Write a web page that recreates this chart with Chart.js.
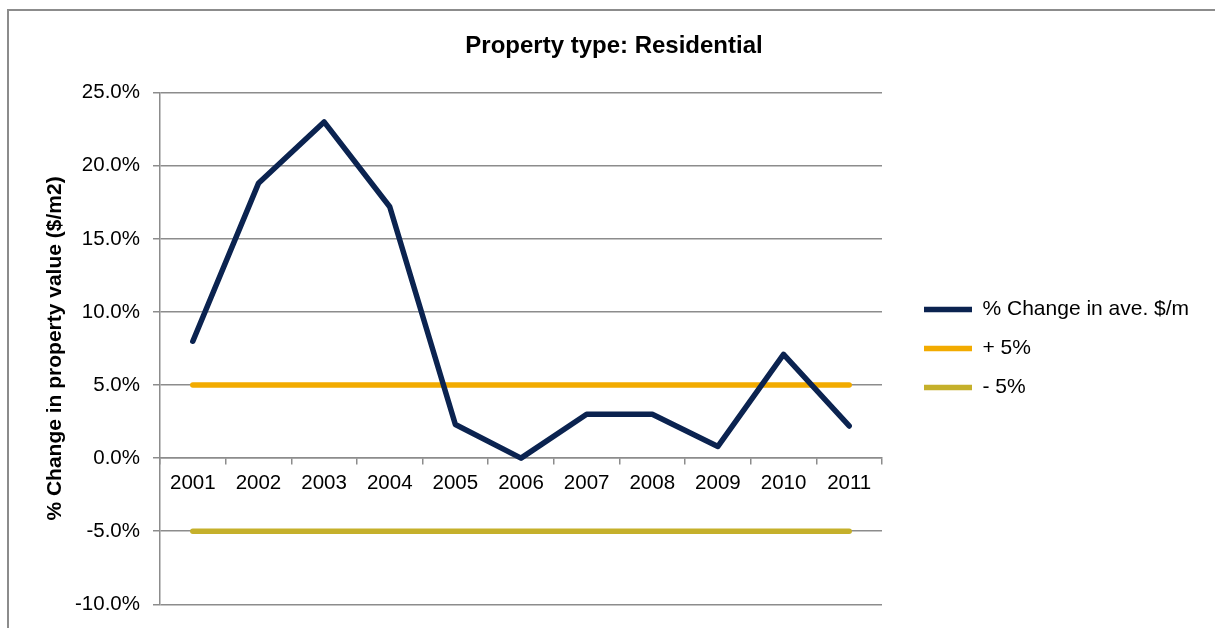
<!DOCTYPE html>
<html>
<head>
<meta charset="utf-8">
<script src="https://cdn.jsdelivr.net/npm/chart.js@4.4.1/dist/chart.umd.min.js"></script>
<style>
  html, body { margin: 0; padding: 0; background: #ffffff; overflow: hidden; }
  #frame { position: absolute; left: 7px; top: 9px; width: 1300px; height: 700px; border: 2px solid #8c8c8c; box-sizing: border-box; }
  #c { position: absolute; left: 0; top: 0; }
</style>
</head>
<body>
<div id="frame"></div>
<canvas id="c" width="1215" height="628"></canvas>
<script>
const years = ['2001','2002','2003','2004','2005','2006','2007','2008','2009','2010','2011'];
const changeValues = [8.0, 18.8, 23.0, 17.2, 2.3, 0.0, 3.0, 3.0, 0.8, 7.1, 2.2];
const plusFive  = [5, 5, 5, 5, 5, 5, 5, 5, 5, 5, 5];
const minusFive = [-5, -5, -5, -5, -5, -5, -5, -5, -5, -5, -5];
const seriesNames = ['% Change in ave. $/m', '+ 5%', '- 5%'];
const yMin = -10, yMax = 25, yStep = 5;

const FONT = "'Liberation Sans', Arial, sans-serif";
const GRID = '#8c8c8c';

new Chart(document.getElementById('c'), {
  type: 'line',
  data: {
    labels: years,
    datasets: [
      { label: seriesNames[0], data: changeValues, borderColor: '#0b2350', backgroundColor: '#0b2350',
        borderWidth: 5.5, pointRadius: 0, tension: 0, borderCapStyle: 'round', borderJoinStyle: 'round', fill: false },
      { label: seriesNames[1], data: plusFive, borderColor: '#f2ab00', backgroundColor: '#f2ab00',
        borderWidth: 5.5, pointRadius: 0, tension: 0, borderCapStyle: 'round', borderJoinStyle: 'round', fill: false },
      { label: seriesNames[2], data: minusFive, borderColor: '#c5b02b', backgroundColor: '#c5b02b',
        borderWidth: 5.5, pointRadius: 0, tension: 0, borderCapStyle: 'round', borderJoinStyle: 'round', fill: false }
    ]
  },
  options: {
    responsive: false,
    animation: false,
    devicePixelRatio: 1,
    layout: { padding: { left: 32, right: 19, top: 0, bottom: 23.7 } },
    plugins: {
      title: {
        display: true,
        text: 'Property type: Residential',
        color: '#000',
        font: { family: FONT, size: 24, weight: 'bold' },
        padding: { top: 31.6, bottom: 32.3 }
      },
      legend: {
        position: 'right',
        align: 'center',
        fullSize: false,
        maxWidth: 290,
        labels: {
          usePointStyle: true,
          pointStyle: 'line',
          pointStyleWidth: 48,
          padding: 18,
          color: '#000',
          font: { family: FONT, size: 21 }
        }
      },
      tooltip: { enabled: false }
    },
    scales: {
      x: {
        type: 'category',
        position: { y: 0 },
        offset: true,
        grid: { display: true, drawOnChartArea: false, drawTicks: true, tickLength: 6, offset: true, color: GRID, lineWidth: 1.5 },
        border: { display: true, color: GRID, width: 1.5 },
        ticks: { color: '#000', padding: 7, font: { family: FONT, size: 20.5 }, maxRotation: 0, autoSkip: false }
      },
      y: {
        type: 'linear',
        position: 'left',
        min: yMin,
        max: yMax,
        ticks: { stepSize: yStep, padding: 13, color: '#000', font: { family: FONT, size: 20.5 },
                 callback: v => v.toFixed(1) + '%' },
        grid: { color: GRID, lineWidth: 1.5, tickLength: 7, drawTicks: true },
        border: { display: true, color: GRID, width: 1.5 },
        title: { display: true, text: '% Change in property value ($/m2)', color: '#000',
                 font: { family: FONT, size: 21, weight: 'bold' }, padding: { top: 10.4, bottom: 0 } },
        afterFit: s => { s.width = 128; s.paddingTop = 10; s.paddingBottom = 10; }
      },
      padR: {
        type: 'linear',
        position: 'right',
        display: true,
        grid: { display: false },
        border: { display: false },
        ticks: { display: false },
        afterFit: s => { s.width = 24; }
      }
    }
  }
});
</script>
</body>
</html>
